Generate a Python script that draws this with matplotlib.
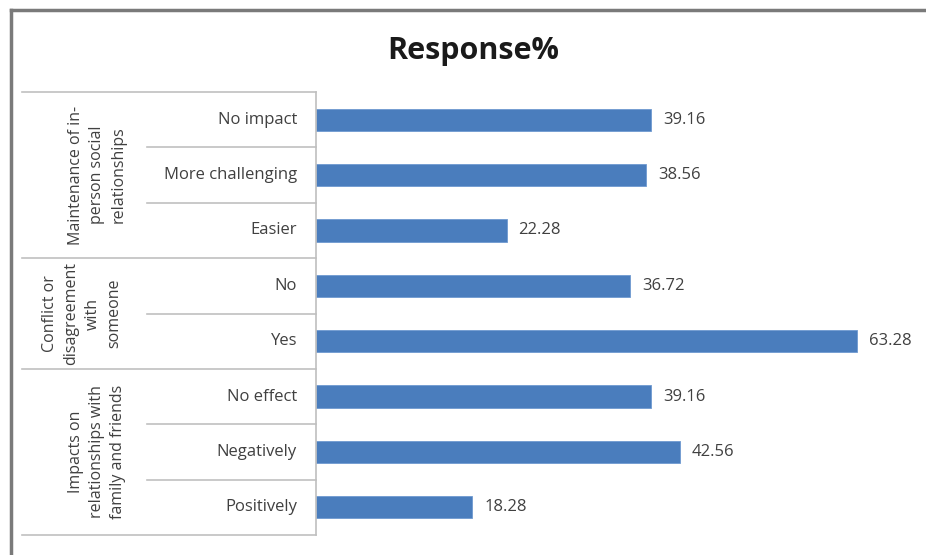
import matplotlib.pyplot as plt
import matplotlib.transforms as mtransforms
from matplotlib.lines import Line2D

plt.rcParams['font.family'] = ['Open Sans', 'DejaVu Sans']

# data, top row first
groups = ["Maintenance of in-\nperson social\nrelationships",
          "Conflict or\ndisagreement\nwith\nsomeone",
          "Impacts on\nrelationships with\nfamily and friends"]
group_sizes = [3, 2, 3]
categories = ["No impact", "More challenging", "Easier",
              "No", "Yes",
              "No effect", "Negatively", "Positively"]
values = [39.16, 38.56, 22.28, 36.72, 63.28, 39.16, 42.56, 18.28]

W, H = 926, 555
fig = plt.figure(figsize=(W / 100, H / 100), dpi=100)
ax = fig.add_axes([316 / W, 20 / H, 599 / W, 443 / H])

rows = list(range(len(categories)))
ax.barh(rows, values, height=0.4, color="#4a7dbd", edgecolor="#6f9ad0", linewidth=0.6)
ax.set_xlim(0, 70)
ax.set_ylim(len(categories) - 0.5, -0.5)
ax.set_xticks([])
ax.set_yticks([])
for s in ["top", "right", "bottom"]:
    ax.spines[s].set_visible(False)
ax.spines["left"].set_color("#bfbfbf")
ax.spines["left"].set_linewidth(1.2)

for y, v in zip(rows, values):
    ax.annotate(f"{v:.2f}", (v, y), xytext=(8.5, 0), textcoords="offset points",
                va="center", ha="left", fontsize=12, color="#404040")

# category table on the left
tr = mtransforms.blended_transform_factory(fig.transFigure, ax.transData)
x_outer, x_inner, x_axis = 22 / W, 147 / W, 316 / W
line_kw = dict(color="#c0c0c0", lw=1.2, transform=tr, clip_on=False)

for y, cat in zip(rows, categories):
    ax.text(297 / W, y, cat, transform=tr, ha="right", va="center",
            fontsize=12, color="#404040")

start = 0
group_x = [97, 82, 97]
ax.add_line(Line2D([x_outer, x_axis], [-0.5, -0.5], **line_kw))
for g, n, gx in zip(groups, group_sizes, group_x):
    for k in range(1, n):
        yy = start + k - 0.5
        ax.add_line(Line2D([x_inner, x_axis], [yy, yy], **line_kw))
    end = start + n - 0.5
    ax.add_line(Line2D([x_outer, x_axis], [end, end], **line_kw))
    ax.text(gx / W, start + (n - 1) / 2, g, transform=tr, rotation=90,
            ha="center", va="center", ma="center", fontsize=11.5,
            color="#404040", linespacing=1.45)
    start += n

fig.text(473 / W, 1 - 51 / H, "Response%", ha="center", va="center",
         fontsize=22, fontweight="bold", color="#1a1a1a")

# chart frame
fig.add_artist(Line2D([11 / W, 1], [1 - 10 / H, 1 - 10 / H], color="#7a7a7a", lw=2.5,
                      transform=fig.transFigure))
fig.add_artist(Line2D([11 / W, 11 / W], [0, 1 - 10 / H], color="#7a7a7a", lw=2.5,
                      transform=fig.transFigure))

fig.savefig("out.png", dpi=100, facecolor="white")
